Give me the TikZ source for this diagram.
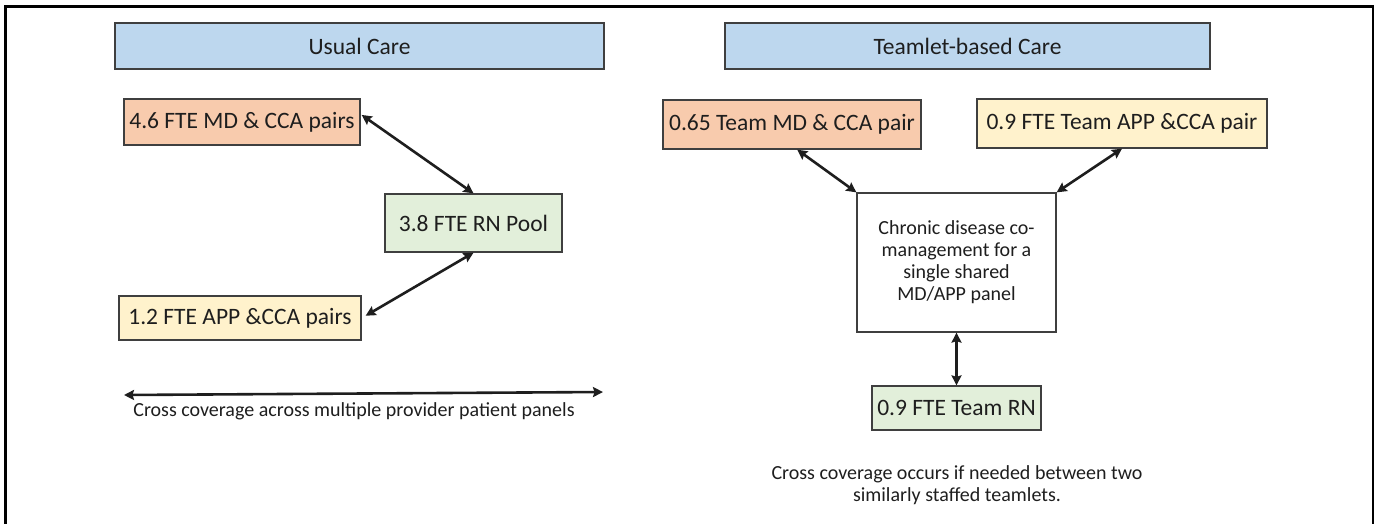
\documentclass[tikz,border=0pt]{standalone}
\usepackage{fontspec}
\setmainfont{Carlito}
\usetikzlibrary{arrows.meta,calc}

\definecolor{hdrblue}{HTML}{BDD7EE}
\definecolor{mdorange}{HTML}{F8CBAD}
\definecolor{appyellow}{HTML}{FFF2CC}
\definecolor{rngreen}{HTML}{E2EFDA}
\definecolor{edgegray}{HTML}{3F3F3F}
\definecolor{inkdark}{HTML}{1E1E1E}

\tikzset{
  labelfont/.style={font=\fontsize{23.5}{28}\selectfont},
  notefont/.style={font=\fontsize{20}{22}\selectfont},
  card/.style={draw=edgegray, line width=1.3pt, inner sep=0pt, text=inkdark, labelfont},
  twoway/.style={draw=inkdark, line width=2.6pt,
    {Stealth[length=10pt,width=10pt,inset=1.5pt]}-{Stealth[length=10pt,width=10pt,inset=1.5pt]}},
}

\begin{document}
\begin{tikzpicture}[x=1pt,y=-1pt]
\useasboundingbox (0,0) rectangle (1377,523);

% outer frame, open at the bottom
\draw[line width=2.6pt, black] (5.5,540) -- (5.5,6.5) -- (1373,6.5) -- (1373,540);

% column headers
\node[card, fill=hdrblue, minimum width=489pt, minimum height=46pt] (hdrL) at (359.5,46) {Usual Care};
\node[card, fill=hdrblue, minimum width=485pt, minimum height=46pt] (hdrR) at (967.5,46) {Teamlet-based Care};

% usual care
\node[card, fill=mdorange, minimum width=236pt, minimum height=46pt] (md) at (242,122) {4.6 FTE MD \& CCA pairs};
\node[card, fill=rngreen, minimum width=177pt, minimum height=58pt] (rn) at (473.5,223) {3.8 FTE RN Pool};
\node[card, fill=appyellow, minimum width=242pt, minimum height=44pt] (app) at (240,318) {1.2 FTE APP \&CCA pairs};

\draw[twoway] ($(md.north east)!0.35!(md.south east)+(1,0)$) -- (rn.north);
\draw[twoway] (rn.south) -- ($(app.north east)!0.45!(app.south east)+(4,0)$);

\coordinate (spanL) at (124,395);
\coordinate (spanR) at (603,392);
\draw[twoway] (spanL) -- (spanR);
\node[notefont, text=inkdark] (spannote) at (354,411) {Cross coverage across multiple provider patient panels};

% teamlet-based care
\node[card, fill=mdorange, minimum width=258pt, minimum height=49pt] (tmd) at (792,124.5) {0.65 Team MD \& CCA pair};
\node[card, fill=appyellow, minimum width=290pt, minimum height=49pt] (tapp) at (1122,123.5) {0.9 FTE Team APP \&CCA pair};
\node[card, fill=white, minimum width=199pt, minimum height=139pt, notefont, align=center] (cdm) at (956.5,262.5)
  {Chronic disease co-\\management for a\\single shared\\MD/APP panel};
\node[card, fill=rngreen, minimum width=169pt, minimum height=44pt] (trn) at (956.5,408) {0.9 FTE Team RN};

\draw[twoway] ($(tmd.south west)!0.52!(tmd.south east)$) -- (cdm.north west);
\draw[twoway] (tapp.south) -- (cdm.north east);
\draw[twoway] (cdm.south) -- (trn.north);

\node[notefont, text=inkdark, align=center] (teamnote) at (957,485)
  {Cross coverage occurs if needed between two\\similarly staffed teamlets.};
\end{tikzpicture}
\end{document}
